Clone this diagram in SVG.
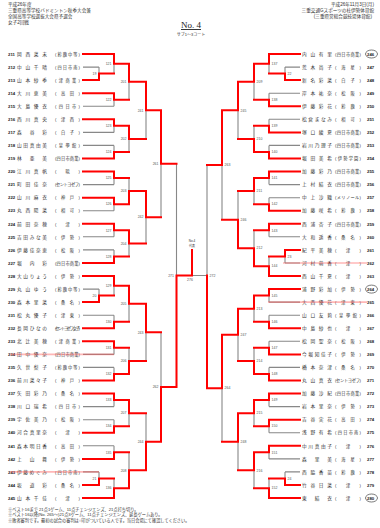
<svg xmlns="http://www.w3.org/2000/svg" width="380" height="528" viewBox="0 0 380 528">
<style>
text{font-family:"Liberation Sans","Noto Sans CJK JP",sans-serif;fill:#333}
.h{font-size:4.6px}
.no{font-size:4.3px;font-weight:bold;fill:#222}
.nm{font-size:4.7px}
.sc{font-size:4.2px}
.lb{font-size:3.5px;fill:#555}
.g{fill:none;stroke:#888;stroke-width:1.1}
.r{fill:none;stroke:#ff0000;stroke-width:2;stroke-linecap:square}
.pk{stroke:#ff6060;stroke-opacity:0.45;stroke-width:1.6}
</style>
<rect width="380" height="528" fill="#fff"/>
<g id="header">
<text class="h" x="8" y="6">平成26年度</text>
<text class="h" x="8" y="12">三重県高等学校バドミントン秋季大会兼</text>
<text class="h" x="8" y="18">全国高等学校選抜大会県予選会</text>
<text class="h" x="8" y="24">女子2回戦</text>
<text class="h" x="374" y="6" text-anchor="end">平成26年11月3日(月)</text>
<text class="h" x="374" y="12" text-anchor="end">三重交通Gスポーツの杜伊勢体育館</text>
<text class="h" x="372" y="18" text-anchor="end">(三重県営総合競技場体育館)</text>
<text x="191" y="28" text-anchor="middle" style="font-family:'Liberation Serif',serif;font-size:9px;text-decoration:underline;fill:#222">No. 4</text>
<text x="191" y="36" text-anchor="middle" style="font-size:4px">サブ1～3コート</text>
</g>
<g id="connectors">
<path class="g" d="M83 67.1H99M83 106.2H114M83 132.4H114M83 145.4H114M83 184.6H114M83 210.7H114M83 236.8H114M83 249.9H114M83 289.1H99M83 315.2H114M83 354.4H114M83 367.4H114M83 406.6H114M83 419.7H114M83 445.8H114M83 471.9H99
M99 67.1V80.1M114 54V73.6M114 93.2V106.2M129 63.8V99.7M114 119.3V132.4M114 145.4V158.5M129 125.85V151.95M146 81.75V138.9M114 171.5V184.6M114 197.7V210.7M129 178.05V204.2M114 223.8V236.8M114 249.9V263M129 230.3V256.45M146 191.1V243.4M161 110.3V217.25M99 289.1V302.1M114 276V295.6M114 315.2V328.3M129 285.8V321.75M114 341.3V354.4M114 367.4V380.5M129 347.85V373.95M146 303.8V360.9M114 393.6V406.6M114 419.7V432.7M129 400.1V426.2M114 445.8V458.9M99 471.9V485M114 478.45V498M129 452.35V488.2M146 413.15V470.3M161 332.35V441.7M176.5 163.8V387"/>
<path class="g" d="M300 67.1H285M300 93.2H269M300 119.3H269M300 145.4H269M300 184.6H269M300 197.7H269M300 236.8H269M300 263H285M300 302.1H269M300 315.2H269M300 341.3H269M300 367.4H269M300 406.6H269M300 432.7H269M300 458.9H269M300 471.9H285
M285 67.1V80.1M269 54V73.6M269 93.2V106.2M254 63.8V99.7M269 119.3V132.4M269 145.4V158.5M254 125.85V151.95M238 81.75V138.9M269 171.5V184.6M269 197.7V210.7M254 178.05V204.2M269 223.8V236.8M285 249.9V263M269 256.45V276M254 230.3V266.2M238 191.1V248.25M222 110.3V219.7M269 289.1V302.1M269 315.2V328.3M254 295.6V321.75M269 341.3V354.4M269 367.4V380.5M254 347.85V373.95M238 308.7V360.9M269 393.6V406.6M269 419.7V432.7M254 400.1V426.2M269 445.8V458.9M285 471.9V485M269 478.45V498M254 452.35V488.2M238 413.15V470.3M222 334.8V441.7M207 165V388.25M192 275.5H207"/>
<path class="r" d="M83 54H114M83 80.1H99M83 93.2H114M83 119.3H114M83 158.5H114M83 171.5H114M83 197.7H114M83 223.8H114M83 263H114M83 276H114M83 302.1H99M83 328.3H114M83 341.3H114M83 380.5H114M83 393.6H114M83 432.7H114M83 458.9H114M83 485H99M83 498H114
M99 80.1V73.6H114M114 54V63.8H129M114 93.2V99.7H129M129 63.8V81.75H146M114 119.3V125.85H129M114 158.5V151.95H129M129 125.85V138.9H146M146 81.75V110.3H161M114 171.5V178.05H129M114 197.7V204.2H129M129 204.2V191.1H146M114 223.8V230.3H129M114 263V256.45H129M129 230.3V243.4H146M146 191.1V217.25H161M161 110.3V163.8H176.5M99 302.1V295.6H114M114 276V285.8H129M114 328.3V321.75H129M129 285.8V303.8H146M114 341.3V347.85H129M114 380.5V373.95H129M129 373.95V360.9H146M146 303.8V332.35H161M114 393.6V400.1H129M114 432.7V426.2H129M129 400.1V413.15H146M114 458.9V452.35H129M99 485V478.45H114M114 498V488.2H129M129 488.2V470.3H146M146 470.3V441.7H161M161 441.7V387H176.5M176.5 387V275.5H192V250"/>
<path class="r" d="M300 54H269M300 80.1H285M300 106.2H269M300 132.4H269M300 158.5H269M300 171.5H269M300 210.7H269M300 223.8H269M300 249.9H285M300 276H269M300 289.1H269M300 328.3H269M300 354.4H269M300 380.5H269M300 393.6H269M300 419.7H269M300 445.8H269M300 485H285M300 498H269
M285 80.1V73.6H269M269 54V63.8H254M269 106.2V99.7H254M254 63.8V81.75H238M269 132.4V125.85H254M269 158.5V151.95H254M254 151.95V138.9H238M238 81.75V110.3H222M269 171.5V178.05H254M269 210.7V204.2H254M254 178.05V191.1H238M269 223.8V230.3H254M285 249.9V256.45H269M269 276V266.2H254M254 266.2V248.25H238M238 248.25V219.7H222M222 110.3V165H207M269 289.1V295.6H254M269 328.3V321.75H254M254 295.6V308.7H238M269 354.4V347.85H254M269 380.5V373.95H254M254 373.95V360.9H238M238 308.7V334.8H222M269 393.6V400.1H254M269 419.7V426.2H254M254 400.1V413.15H238M269 445.8V452.35H254M285 485V478.45H269M269 498V488.2H254M254 452.35V470.3H238M238 413.15V441.7H222M222 334.8V388.25H207M207 388.25V275.5"/>
</g>
<g id="match-labels">
<text class="lb" text-anchor="end" x="96.5" y="74.8">19</text>
<text class="lb" text-anchor="end" x="111.5" y="65">121</text>
<text class="lb" text-anchor="end" x="111.5" y="100.9">122</text>
<text class="lb" text-anchor="end" x="111.5" y="127">123</text>
<text class="lb" text-anchor="end" x="111.5" y="153.1">124</text>
<text class="lb" text-anchor="end" x="111.5" y="179.2">125</text>
<text class="lb" text-anchor="end" x="111.5" y="205.4">126</text>
<text class="lb" text-anchor="end" x="111.5" y="231.5">127</text>
<text class="lb" text-anchor="end" x="111.5" y="257.6">128</text>
<text class="lb" text-anchor="end" x="96.5" y="296.8">20</text>
<text class="lb" text-anchor="end" x="111.5" y="287">129</text>
<text class="lb" text-anchor="end" x="111.5" y="322.9">130</text>
<text class="lb" text-anchor="end" x="111.5" y="349">131</text>
<text class="lb" text-anchor="end" x="111.5" y="375.1">132</text>
<text class="lb" text-anchor="end" x="111.5" y="401.3">133</text>
<text class="lb" text-anchor="end" x="111.5" y="427.4">134</text>
<text class="lb" text-anchor="end" x="111.5" y="453.5">135</text>
<text class="lb" text-anchor="end" x="96.5" y="479.6">21</text>
<text class="lb" text-anchor="end" x="111.5" y="489.4">136</text>
<text class="lb" text-anchor="end" x="126.5" y="82.9">201</text>
<text class="lb" text-anchor="end" x="126.5" y="140.1">202</text>
<text class="lb" text-anchor="end" x="126.5" y="192.3">203</text>
<text class="lb" text-anchor="end" x="126.5" y="244.6">204</text>
<text class="lb" text-anchor="end" x="126.5" y="305">205</text>
<text class="lb" text-anchor="end" x="126.5" y="362.1">206</text>
<text class="lb" text-anchor="end" x="126.5" y="414.3">207</text>
<text class="lb" text-anchor="end" x="126.5" y="471.5">208</text>
<text class="lb" text-anchor="end" x="143.5" y="111.5">241</text>
<text class="lb" text-anchor="end" x="143.5" y="218.4">242</text>
<text class="lb" text-anchor="end" x="143.5" y="333.5">243</text>
<text class="lb" text-anchor="end" x="143.5" y="442.9">244</text>
<text class="lb" text-anchor="end" x="158.5" y="165">261</text>
<text class="lb" text-anchor="end" x="158.5" y="388.2">262</text>
<text class="lb" text-anchor="end" x="174" y="276.7">271</text>
<text class="lb" text-anchor="start" x="209.5" y="276.7">272</text>
<text class="lb" text-anchor="middle" x="190" y="281">276</text>
<text class="lb" x="287.5" y="74.8">22</text>
<text class="lb" x="271.5" y="65">137</text>
<text class="lb" x="271.5" y="100.9">138</text>
<text class="lb" x="271.5" y="127">139</text>
<text class="lb" x="271.5" y="153.1">140</text>
<text class="lb" x="271.5" y="179.2">141</text>
<text class="lb" x="271.5" y="205.4">142</text>
<text class="lb" x="271.5" y="231.5">143</text>
<text class="lb" x="287.5" y="257.6">23</text>
<text class="lb" x="271.5" y="267.4">144</text>
<text class="lb" x="271.5" y="296.8">145</text>
<text class="lb" x="271.5" y="322.9">146</text>
<text class="lb" x="271.5" y="349">147</text>
<text class="lb" x="271.5" y="375.1">148</text>
<text class="lb" x="271.5" y="401.3">149</text>
<text class="lb" x="271.5" y="427.4">150</text>
<text class="lb" x="271.5" y="453.5">151</text>
<text class="lb" x="287.5" y="479.6">24</text>
<text class="lb" x="271.5" y="489.4">152</text>
<text class="lb" x="256.5" y="82.9">209</text>
<text class="lb" x="256.5" y="140.1">210</text>
<text class="lb" x="256.5" y="192.3">211</text>
<text class="lb" x="256.5" y="249.4">212</text>
<text class="lb" x="256.5" y="309.9">213</text>
<text class="lb" x="256.5" y="362.1">214</text>
<text class="lb" x="256.5" y="414.3">215</text>
<text class="lb" x="256.5" y="471.5">216</text>
<text class="lb" x="240.5" y="111.5">245</text>
<text class="lb" x="240.5" y="220.9">246</text>
<text class="lb" x="240.5" y="336">247</text>
<text class="lb" x="240.5" y="442.9">248</text>
<text class="lb" x="224.5" y="166.2">263</text>
<text class="lb" x="224.5" y="389.4">264</text>
</g>
<g id="p211"><text class="no" x="8" y="55.7">211</text><text class="nm" x="17" y="55.7" textLength="30" lengthAdjust="spacing">岡西菜未</text><text class="sc" x="55" y="55.7" textLength="25" lengthAdjust="spacing">(鈴鹿中等)</text></g>
<g id="p212"><text class="no" x="8" y="68.8">212</text><text class="nm" x="17" y="68.8" textLength="30" lengthAdjust="spacing">中山千晴</text><text class="sc" x="55" y="68.8" textLength="25" lengthAdjust="spacing">(四日市南)</text></g>
<g id="p213"><text class="no" x="8" y="81.8">213</text><text class="nm" x="17" y="81.8" textLength="30" lengthAdjust="spacing">山本紗季</text><text class="sc" x="55" y="81.8" textLength="25" lengthAdjust="spacing">(津商業)</text></g>
<g id="p214"><text class="no" x="8" y="94.9">214</text><text class="nm" x="17" y="94.9" textLength="30" lengthAdjust="spacing">大川恵美</text><text class="sc" x="55" y="94.9" textLength="25" lengthAdjust="spacing">(高田)</text></g>
<g id="p215"><text class="no" x="8" y="107.9">215</text><text class="nm" x="17" y="107.9" textLength="30" lengthAdjust="spacing">大島優衣</text><text class="sc" x="55" y="107.9" textLength="25" lengthAdjust="spacing">(四日市)</text></g>
<g id="p216"><text class="no" x="8" y="121">216</text><text class="nm" x="17" y="121" textLength="30" lengthAdjust="spacing">西川真央</text><text class="sc" x="55" y="121" textLength="25" lengthAdjust="spacing">(津西)</text></g>
<g id="p217"><text class="no" x="8" y="134.1">217</text><text class="nm" x="17" y="134.1" textLength="30" lengthAdjust="spacing">森谷彩</text><text class="sc" x="55" y="134.1" textLength="25" lengthAdjust="spacing">(白子)</text></g>
<g id="p218"><text class="no" x="8" y="147.1">218</text><text class="nm" x="17" y="147.1" textLength="30" lengthAdjust="spacing">山田真由美</text><text class="sc" x="55" y="147.1" textLength="25" lengthAdjust="spacing">(皇學館)</text></g>
<g id="p219"><text class="no" x="8" y="160.2">219</text><text class="nm" x="17" y="160.2" textLength="30" lengthAdjust="spacing">林亜美</text><text class="sc" x="55" y="160.2" textLength="25" lengthAdjust="spacing">(四日市商業)</text></g>
<g id="p220"><text class="no" x="8" y="173.2">220</text><text class="nm" x="17" y="173.2" textLength="30" lengthAdjust="spacing">江川真帆</text><text class="sc" x="55" y="173.2" textLength="25" lengthAdjust="spacing">(暁)</text></g>
<g id="p221"><text class="no" x="8" y="186.3">221</text><text class="nm" x="17" y="186.3" textLength="30" lengthAdjust="spacing">町田佳奈</text><text class="sc" x="55" y="186.3" textLength="25" lengthAdjust="spacing">(セントヨゼフ)</text></g>
<g id="p222"><text class="no" x="8" y="199.4">222</text><text class="nm" x="17" y="199.4" textLength="30" lengthAdjust="spacing">山川麻衣</text><text class="sc" x="55" y="199.4" textLength="25" lengthAdjust="spacing">(神戸)</text></g>
<g id="p223"><text class="no" x="8" y="212.4">223</text><text class="nm" x="17" y="212.4" textLength="30" lengthAdjust="spacing">丸西陽菜</text><text class="sc" x="55" y="212.4" textLength="25" lengthAdjust="spacing">(相可)</text></g>
<g id="p224"><text class="no" x="8" y="225.5">224</text><text class="nm" x="17" y="225.5" textLength="30" lengthAdjust="spacing">前田奈穂</text><text class="sc" x="55" y="225.5" textLength="25" lengthAdjust="spacing">(津)</text></g>
<g id="p225"><text class="no" x="8" y="238.5">225</text><text class="nm" x="17" y="238.5" textLength="30" lengthAdjust="spacing">吉田みな美</text><text class="sc" x="55" y="238.5" textLength="25" lengthAdjust="spacing">(伊勢)</text></g>
<g id="p226"><text class="no" x="8" y="251.6">226</text><text class="nm" x="17" y="251.6" textLength="30" lengthAdjust="spacing">伊藤佳奈恵</text><text class="sc" x="55" y="251.6" textLength="25" lengthAdjust="spacing">(松阪)</text></g>
<g id="p227"><text class="no" x="8" y="264.7">227</text><text class="nm" x="17" y="264.7" textLength="30" lengthAdjust="spacing">堀内彩</text><text class="sc" x="55" y="264.7" textLength="25" lengthAdjust="spacing">(四日市商業)</text></g>
<g id="p228"><text class="no" x="8" y="277.7">228</text><text class="nm" x="17" y="277.7" textLength="30" lengthAdjust="spacing">大山りょう</text><text class="sc" x="55" y="277.7" textLength="25" lengthAdjust="spacing">(伊勢)</text></g>
<g id="p229"><text class="no" x="8" y="290.8">229</text><text class="nm" x="17" y="290.8" textLength="30" lengthAdjust="spacing">丸山ゆう</text><text class="sc" x="55" y="290.8" textLength="25" lengthAdjust="spacing">(鈴鹿中等)</text></g>
<g id="p230"><text class="no" x="8" y="303.8">230</text><text class="nm" x="17" y="303.8" textLength="30" lengthAdjust="spacing">森本里菜</text><text class="sc" x="55" y="303.8" textLength="25" lengthAdjust="spacing">(桑名)</text></g>
<g id="p231"><text class="no" x="8" y="316.9">231</text><text class="nm" x="17" y="316.9" textLength="30" lengthAdjust="spacing">松丸優子</text><text class="sc" x="55" y="316.9" textLength="25" lengthAdjust="spacing">(津東)</text></g>
<g id="p232"><text class="no" x="8" y="330">232</text><text class="nm" x="17" y="330" textLength="30" lengthAdjust="spacing">長岡ひなの</text><text class="sc" x="55" y="330" textLength="25" lengthAdjust="spacing">(セントヨゼフ女子)</text></g>
<g id="p233"><text class="no" x="8" y="343">233</text><text class="nm" x="17" y="343" textLength="30" lengthAdjust="spacing">北辻美穂</text><text class="sc" x="55" y="343" textLength="25" lengthAdjust="spacing">(津商業)</text></g>
<g id="p234"><text class="no" x="8" y="356.1">234</text><text class="nm" x="17" y="356.1" textLength="30" lengthAdjust="spacing">田中優奈</text><text class="sc" x="55" y="356.1" textLength="25" lengthAdjust="spacing">(四日市商業)</text></g>
<g id="p235"><text class="no" x="8" y="369.1">235</text><text class="nm" x="17" y="369.1" textLength="30" lengthAdjust="spacing">久世梨子</text><text class="sc" x="55" y="369.1" textLength="25" lengthAdjust="spacing">(鈴鹿中等)</text></g>
<g id="p236"><text class="no" x="8" y="382.2">236</text><text class="nm" x="17" y="382.2" textLength="30" lengthAdjust="spacing">前川菜々子</text><text class="sc" x="55" y="382.2" textLength="25" lengthAdjust="spacing">(神戸)</text></g>
<g id="p237"><text class="no" x="8" y="395.3">237</text><text class="nm" x="17" y="395.3" textLength="30" lengthAdjust="spacing">矢田彩乃</text><text class="sc" x="55" y="395.3" textLength="25" lengthAdjust="spacing">(桑名)</text></g>
<g id="p238"><text class="no" x="8" y="408.3">238</text><text class="nm" x="17" y="408.3" textLength="30" lengthAdjust="spacing">川口瑞希</text><text class="sc" x="55" y="408.3" textLength="25" lengthAdjust="spacing">(四日市)</text></g>
<g id="p239"><text class="no" x="8" y="421.4">239</text><text class="nm" x="17" y="421.4" textLength="30" lengthAdjust="spacing">宇佐美乃</text><text class="sc" x="55" y="421.4" textLength="25" lengthAdjust="spacing">(松阪)</text></g>
<g id="p240"><text class="no" x="8" y="434.4">240</text><text class="nm" x="17" y="434.4" textLength="30" lengthAdjust="spacing">河合真里奈</text><text class="sc" x="55" y="434.4" textLength="25" lengthAdjust="spacing">(津)</text></g>
<g id="p241"><text class="no" x="8" y="447.5">241</text><text class="nm" x="17" y="447.5" textLength="30" lengthAdjust="spacing">森本明日香</text><text class="sc" x="55" y="447.5" textLength="25" lengthAdjust="spacing">(高田)</text></g>
<g id="p242"><text class="no" x="8" y="460.6">242</text><text class="nm" x="17" y="460.6" textLength="30" lengthAdjust="spacing">上山舞</text><text class="sc" x="55" y="460.6" textLength="25" lengthAdjust="spacing">(伊勢)</text></g>
<g id="p243"><text class="no" x="8" y="473.6">243</text><text class="nm" x="17" y="473.6" textLength="30" lengthAdjust="spacing">伊藤めぐみ</text><text class="sc" x="55" y="473.6" textLength="25" lengthAdjust="spacing">(四日市南)</text></g>
<g id="p244"><text class="no" x="8" y="486.7">244</text><text class="nm" x="17" y="486.7" textLength="30" lengthAdjust="spacing">坂道彩</text><text class="sc" x="55" y="486.7" textLength="25" lengthAdjust="spacing">(桑名)</text></g>
<g id="p245"><text class="no" x="8" y="499.7">245</text><text class="nm" x="17" y="499.7" textLength="30" lengthAdjust="spacing">山本千佳</text><text class="sc" x="55" y="499.7" textLength="25" lengthAdjust="spacing">(津)</text></g>
<g id="p246"><text class="nm" x="302" y="55.7" textLength="30" lengthAdjust="spacing">内山有里</text><text class="sc" x="335" y="55.7" textLength="26" lengthAdjust="spacing">(四日市商業)</text><text class="no" x="367" y="55.7">246</text><ellipse cx="371.5" cy="54" rx="6" ry="4" fill="none" stroke="#222" stroke-width="0.6"/></g>
<g id="p247"><text class="nm" x="302" y="68.8" textLength="30" lengthAdjust="spacing">荒木尚子</text><text class="sc" x="335" y="68.8" textLength="26" lengthAdjust="spacing">(海星)</text><text class="no" x="367" y="68.8">247</text></g>
<g id="p248"><text class="nm" x="302" y="81.8" textLength="30" lengthAdjust="spacing">新名彩菜</text><text class="sc" x="335" y="81.8" textLength="26" lengthAdjust="spacing">(白子)</text><text class="no" x="367" y="81.8">248</text></g>
<g id="p249"><text class="nm" x="302" y="94.9" textLength="30" lengthAdjust="spacing">岸本祐奈</text><text class="sc" x="335" y="94.9" textLength="26" lengthAdjust="spacing">(松阪)</text><text class="no" x="367" y="94.9">249</text></g>
<g id="p250"><text class="nm" x="302" y="107.9" textLength="30" lengthAdjust="spacing">伊藤彩花</text><text class="sc" x="335" y="107.9" textLength="26" lengthAdjust="spacing">(鈴鹿)</text><text class="no" x="367" y="107.9">250</text></g>
<g id="p251"><text class="nm" x="302" y="121" textLength="30" lengthAdjust="spacing">松倉まなみ</text><text class="sc" x="335" y="121" textLength="26" lengthAdjust="spacing">(相可)</text><text class="no" x="367" y="121">251</text></g>
<g id="p252"><text class="nm" x="302" y="134.1" textLength="30" lengthAdjust="spacing">塚口綾夏</text><text class="sc" x="335" y="134.1" textLength="26" lengthAdjust="spacing">(四日市商業)</text><text class="no" x="367" y="134.1">252</text></g>
<g id="p253"><text class="nm" x="302" y="147.1" textLength="30" lengthAdjust="spacing">岩川乃理子</text><text class="sc" x="335" y="147.1" textLength="26" lengthAdjust="spacing">(四日市商業)</text><text class="no" x="367" y="147.1">253</text></g>
<g id="p254"><text class="nm" x="302" y="160.2" textLength="30" lengthAdjust="spacing">堀田美希</text><text class="sc" x="335" y="160.2" textLength="26" lengthAdjust="spacing">(伊勢学園)</text><text class="no" x="367" y="160.2">254</text></g>
<g id="p255"><text class="nm" x="302" y="173.2" textLength="30" lengthAdjust="spacing">加藤彩乃</text><text class="sc" x="335" y="173.2" textLength="26" lengthAdjust="spacing">(四日市商業)</text><text class="no" x="367" y="173.2">255</text></g>
<g id="p256"><text class="nm" x="302" y="186.3" textLength="30" lengthAdjust="spacing">上村結衣</text><text class="sc" x="335" y="186.3" textLength="26" lengthAdjust="spacing">(四日市商業)</text><text class="no" x="367" y="186.3">256</text></g>
<g id="p257"><text class="nm" x="302" y="199.4" textLength="30" lengthAdjust="spacing">中上沙織</text><text class="sc" x="335" y="199.4" textLength="26" lengthAdjust="spacing">(メリノール)</text><text class="no" x="367" y="199.4">257</text></g>
<g id="p258"><text class="nm" x="302" y="212.4" textLength="30" lengthAdjust="spacing">加藤咲希</text><text class="sc" x="335" y="212.4" textLength="26" lengthAdjust="spacing">(鈴鹿)</text><text class="no" x="367" y="212.4">258</text></g>
<g id="p259"><text class="nm" x="302" y="225.5" textLength="30" lengthAdjust="spacing">西浦杏子</text><text class="sc" x="335" y="225.5" textLength="26" lengthAdjust="spacing">(四日市商業)</text><text class="no" x="367" y="225.5">259</text></g>
<g id="p260"><text class="nm" x="302" y="238.5" textLength="30" lengthAdjust="spacing">大和遥香</text><text class="sc" x="335" y="238.5" textLength="26" lengthAdjust="spacing">(桑名)</text><text class="no" x="367" y="238.5">260</text></g>
<g id="p261"><text class="nm" x="302" y="251.6" textLength="30" lengthAdjust="spacing">紀平美穂</text><text class="sc" x="335" y="251.6" textLength="26" lengthAdjust="spacing">(津)</text><text class="no" x="367" y="251.6">261</text></g>
<g id="p262"><text class="nm" x="302" y="264.7" textLength="30" lengthAdjust="spacing">河村萌香</text><text class="sc" x="335" y="264.7" textLength="26" lengthAdjust="spacing">(津)</text><text class="no" x="367" y="264.7">262</text></g>
<g id="p263"><text class="nm" x="302" y="277.7" textLength="30" lengthAdjust="spacing">西山千夏</text><text class="sc" x="335" y="277.7" textLength="26" lengthAdjust="spacing">(津)</text><text class="no" x="367" y="277.7">263</text></g>
<g id="p264"><text class="nm" x="302" y="290.8" textLength="30" lengthAdjust="spacing">浦野彩加</text><text class="sc" x="335" y="290.8" textLength="26" lengthAdjust="spacing">(伊勢)</text><text class="no" x="367" y="290.8">264</text><ellipse cx="371.5" cy="289.1" rx="6" ry="4" fill="none" stroke="#222" stroke-width="0.6"/></g>
<g id="p265"><text class="nm" x="302" y="303.8" textLength="30" lengthAdjust="spacing">大西優花</text><text class="sc" x="335" y="303.8" textLength="26" lengthAdjust="spacing">(津東)</text><text class="no" x="367" y="303.8">265</text></g>
<g id="p266"><text class="nm" x="302" y="316.9" textLength="30" lengthAdjust="spacing">山口友莉</text><text class="sc" x="335" y="316.9" textLength="26" lengthAdjust="spacing">(皇學館)</text><text class="no" x="367" y="316.9">266</text></g>
<g id="p267"><text class="nm" x="302" y="330" textLength="30" lengthAdjust="spacing">中島紗也</text><text class="sc" x="335" y="330" textLength="26" lengthAdjust="spacing">(津)</text><text class="no" x="367" y="330">267</text></g>
<g id="p268"><text class="nm" x="302" y="343" textLength="30" lengthAdjust="spacing">松岡聖奈</text><text class="sc" x="335" y="343" textLength="26" lengthAdjust="spacing">(松阪)</text><text class="no" x="367" y="343">268</text></g>
<g id="p269"><text class="nm" x="302" y="356.1" textLength="30" lengthAdjust="spacing">今堀知佳子</text><text class="sc" x="335" y="356.1" textLength="26" lengthAdjust="spacing">(伊勢)</text><text class="no" x="367" y="356.1">269</text></g>
<g id="p270"><text class="nm" x="302" y="369.1" textLength="30" lengthAdjust="spacing">橋本奈津</text><text class="sc" x="335" y="369.1" textLength="26" lengthAdjust="spacing">(桑名)</text><text class="no" x="367" y="369.1">270</text></g>
<g id="p271"><text class="nm" x="302" y="382.2" textLength="30" lengthAdjust="spacing">丸山真衣</text><text class="sc" x="335" y="382.2" textLength="26" lengthAdjust="spacing">(セントヨゼフ)</text><text class="no" x="367" y="382.2">271</text></g>
<g id="p272"><text class="nm" x="302" y="395.3" textLength="30" lengthAdjust="spacing">加藤沙紀</text><text class="sc" x="335" y="395.3" textLength="26" lengthAdjust="spacing">(四日市商業)</text><text class="no" x="367" y="395.3">272</text></g>
<g id="p273"><text class="nm" x="302" y="408.3" textLength="30" lengthAdjust="spacing">岩本里奈</text><text class="sc" x="335" y="408.3" textLength="26" lengthAdjust="spacing">(伊勢)</text><text class="no" x="367" y="408.3">273</text></g>
<g id="p274"><text class="nm" x="302" y="421.4" textLength="30" lengthAdjust="spacing">吉谷実花</text><text class="sc" x="335" y="421.4" textLength="26" lengthAdjust="spacing">(高田)</text><text class="no" x="367" y="421.4">274</text></g>
<g id="p275"><text class="nm" x="302" y="434.4" textLength="30" lengthAdjust="spacing">浅野有希</text><text class="sc" x="335" y="434.4" textLength="26" lengthAdjust="spacing">(四日市南)</text><text class="no" x="367" y="434.4">275</text></g>
<g id="p276"><text class="nm" x="302" y="447.5" textLength="30" lengthAdjust="spacing">中川真由子</text><text class="sc" x="335" y="447.5" textLength="26" lengthAdjust="spacing">(津)</text><text class="no" x="367" y="447.5">276</text></g>
<g id="p277"><text class="nm" x="302" y="460.6" textLength="30" lengthAdjust="spacing">森里美</text><text class="sc" x="335" y="460.6" textLength="26" lengthAdjust="spacing">(海星)</text><text class="no" x="367" y="460.6">277</text></g>
<g id="p278"><text class="nm" x="302" y="473.6" textLength="30" lengthAdjust="spacing">西脇香苗</text><text class="sc" x="335" y="473.6" textLength="26" lengthAdjust="spacing">(鈴鹿)</text><text class="no" x="367" y="473.6">278</text></g>
<g id="p279"><text class="nm" x="302" y="486.7" textLength="30" lengthAdjust="spacing">竹谷日菜</text><text class="sc" x="335" y="486.7" textLength="26" lengthAdjust="spacing">(津)</text><text class="no" x="367" y="486.7">279</text></g>
<g id="p280"><text class="nm" x="302" y="499.7" textLength="30" lengthAdjust="spacing">東結衣</text><text class="sc" x="335" y="499.7" textLength="26" lengthAdjust="spacing">(津)</text><text class="no" x="367" y="499.7">280</text><ellipse cx="371.5" cy="498" rx="6" ry="4" fill="none" stroke="#222" stroke-width="0.6"/></g>
<g id="strikes">
<path class="pk" d="M10 354.4H114M10 471.9H99M283 263H367M268 302.1H367"/>
</g>
<g id="center">
<text x="192" y="242" text-anchor="middle" style="font-size:3px">No.4</text>
<text x="192" y="246.5" text-anchor="middle" style="font-size:3px">代表</text>
</g>
<g id="footer">
<text x="8" y="510.5" style="font-size:4.2px">※ベスト16まで 21点1ゲーム、11点チェンジエンズ、21点打ち切り。</text>
<text x="8" y="516" style="font-size:4.2px">※ベスト16以降(No. 265～)21点3ゲーム、11点チェンジエンズ、延長ゲームあり。</text>
<text x="8" y="521.5" style="font-size:4.2px">※敗者審判です。最初の試合の審判は○印がついている人です。当日会場にて確認してください。</text>
</g>
</svg>
